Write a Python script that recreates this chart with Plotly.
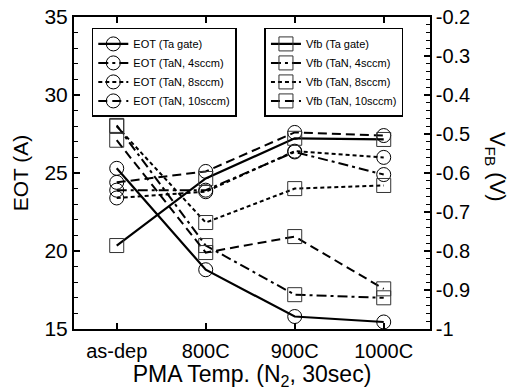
import plotly.graph_objects as go

categories = ["as-dep", "800C", "900C", "1000C"]

eot_ta = [25.3, 18.8, 15.8, 15.45]
eot_4 = [23.9, 23.9, 26.35, 24.9]
eot_8 = [23.4, 23.8, 26.4, 26.0]
eot_10 = [24.4, 25.1, 27.6, 27.4]

vfb_ta = [-0.786, -0.614, -0.511, -0.514]
vfb_4 = [-0.478, -0.786, -0.912, -0.92]
vfb_8 = [-0.48, -0.727, -0.64, -0.632]
vfb_10 = [-0.516, -0.804, -0.763, -0.897]

eot_ticks = [15, 20, 25, 30, 35]
vfb_tickvals = [-1, -0.9, -0.8, -0.7, -0.6, -0.5, -0.4, -0.3, -0.2]
vfb_ticktext = ["-1", "-0.9", "-0.8", "-0.7", "-0.6", "-0.5", "-0.4", "-0.3", "-0.2"]

FONT = "Liberation Sans, Arial, sans-serif"
dashes = {"ta": "solid", "4": "10px,4px,3px,4px", "8": "4px,3px", "10": "9px,5px"}

fig = go.Figure()

eot_series = [("EOT (Ta gate)", eot_ta, "ta"), ("EOT (TaN, 4sccm)", eot_4, "4"),
              ("EOT (TaN, 8sccm)", eot_8, "8"), ("EOT (TaN, 10sccm)", eot_10, "10")]
for name, vals, k in eot_series:
    fig.add_trace(go.Scatter(
        x=categories, y=vals, name=name, mode="lines+markers",
        line=dict(color="black", width=2.2 if k == "ta" else 2, dash=dashes[k]),
        marker=dict(symbol="circle-open", size=14, color="black", line=dict(width=1)),
        legend="legend"))

vfb_series = [("Vfb (Ta gate)", vfb_ta, "ta"), ("Vfb (TaN, 4sccm)", vfb_4, "4"),
              ("Vfb (TaN, 8sccm)", vfb_8, "8"), ("Vfb (TaN, 10sccm)", vfb_10, "10")]
for name, vals, k in vfb_series:
    fig.add_trace(go.Scatter(
        x=categories, y=vals, name=name, mode="lines+markers", yaxis="y2",
        line=dict(color="black", width=2.2 if k == "ta" else 2, dash=dashes[k]),
        marker=dict(symbol="square-open", size=14, color="#333", line=dict(width=1)),
        legend="legend2"))

fig.update_layout(
    width=512, height=390,
    margin=dict(l=74, r=82, t=17, b=61),
    paper_bgcolor="white", plot_bgcolor="white",
    font=dict(family=FONT, color="black", size=15),
    xaxis=dict(
        type="category", range=[-0.48, 3.52], automargin=False,
        showline=True, linecolor="black", linewidth=2, mirror="ticks",
        ticks="inside", ticklen=6, tickwidth=1.5, tickcolor="black",
        tickfont=dict(size=20), showgrid=False, zeroline=False,
        ticklabelstandoff=3,
        title=dict(text="PMA Temp. (N<sub>2</sub>, 30sec)", font=dict(size=23), standoff=3),
    ),
    yaxis=dict(
        range=[15, 35], tickvals=eot_ticks, automargin=False,
        showline=True, linecolor="black", linewidth=2,
        ticks="inside", ticklen=6, tickwidth=1.5, tickcolor="black",
        minor=dict(ticks="inside", dtick=1, ticklen=4, tickcolor="black", tickwidth=1.2),
        tickfont=dict(size=21), showgrid=False, zeroline=False,
        title=dict(text="EOT (A)", font=dict(size=21), standoff=10),
    ),
    yaxis2=dict(
        overlaying="y", side="right", range=[-1, -0.2], automargin=False,
        tickvals=vfb_tickvals, ticktext=vfb_ticktext,
        showline=True, linecolor="black", linewidth=1.5,
        ticks="inside", ticklen=6, tickwidth=1.5, tickcolor="black",
        minor=dict(ticks="inside", dtick=0.02, ticklen=4, tickcolor="black", tickwidth=1.2),
        tickfont=dict(size=20), showgrid=False, zeroline=False,
    ),
    legend=dict(
        x=0.05, y=0.965, xanchor="left", yanchor="top",
        bgcolor="white", bordercolor="black", borderwidth=1.5,
        font=dict(size=11, family=FONT), tracegroupgap=0,
    ),
    legend2=dict(
        x=0.535, y=0.965, xanchor="left", yanchor="top",
        bgcolor="white", bordercolor="black", borderwidth=1.5,
        font=dict(size=11, family=FONT), tracegroupgap=0,
    ),
    showlegend=True,
)

fig.add_annotation(
    text="V<sub>FB</sub> (V)", textangle=90, xref="paper", yref="paper",
    x=1.185, y=0.52, xanchor="center", yanchor="middle", showarrow=False,
    font=dict(size=22, family=FONT),
)

fig.write_html("out.html")
